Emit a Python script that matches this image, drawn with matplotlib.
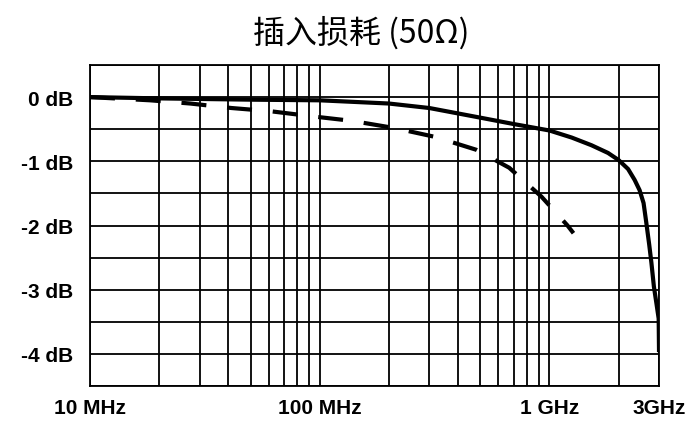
import matplotlib.pyplot as plt
from matplotlib.ticker import FixedLocator, NullFormatter

# frequency (MHz) / loss (dB)
solid_f = [10, 20, 50, 100, 200, 300, 500, 700, 1000, 1250, 1525, 1800, 2000, 2200, 2350, 2470, 2570, 2640, 2720,
           2780, 2850, 2920, 2990, 3000]
solid_db = [0, -0.02, -0.04, -0.05, -0.1, -0.17, -0.32, -0.42, -0.52, -0.63, -0.75, -0.87, -0.98, -1.12, -1.29,
            -1.45, -1.65, -1.95, -2.3, -2.58, -2.95, -3.2, -3.45, -3.94]

dash_f = [10, 18.3, 27.3, 41.3, 61, 93, 138, 210, 318, 480, 668, 923, 1199, 1273]
dash_db = [0, -0.05, -0.1, -0.17, -0.22, -0.3, -0.37, -0.48, -0.62, -0.82, -1.1, -1.55, -2.0, -2.12]

x_ticks = [10, 100, 1000, 3000]
x_labels = ['10 MHz', '100 MHz', '1 GHz', '3GHz']
y_ticks = [0, -1, -2, -3, -4]
y_labels = ['0 dB', '-1 dB', '-2 dB', '-3 dB', '-4 dB']

fig = plt.figure(figsize=(6.93, 4.27), dpi=100)
ax = fig.add_axes([90 / 693, 1 - 387 / 427, (659 - 90) / 693, (387 - 66) / 427])

ax.plot(solid_f, solid_db, color='black', lw=3, solid_joinstyle='round', zorder=3)
ax.plot(dash_f, dash_db, color='black', lw=3, dashes=(6, 5), zorder=3)

ax.set_xscale('log')
ax.set_xlim(10, 3000)
ax.set_ylim(-4.5, 0.5)

grid_x = [m * 10 ** k for k in (1, 2) for m in range(1, 10)] + [1000, 2000, 3000]
ax.xaxis.set_major_locator(FixedLocator(x_ticks))
ax.xaxis.set_minor_locator(FixedLocator(grid_x))
ax.xaxis.set_minor_formatter(NullFormatter())
ax.set_xticklabels(x_labels)
ax.set_yticks(y_ticks)
ax.set_yticklabels(y_labels)
ax.set_yticks([0.5, -0.5, -1.5, -2.5, -3.5, -4.5], minor=True)

ax.grid(True, which='both', color='black', lw=1.3)
for s in ax.spines.values():
    s.set_linewidth(1.3)
ax.tick_params(which='both', length=0)
ax.tick_params(axis='x', pad=9)
ax.tick_params(axis='y', pad=12)
for lab in ax.get_xticklabels() + ax.get_yticklabels():
    lab.set_family('Liberation Sans')
    lab.set_fontweight('bold')
    lab.set_fontsize(15)

fig.text(361 / 693, 1 - 33 / 427, '插入损耗 (50Ω)', ha='center', va='center',
         fontsize=23, fontweight='medium', family=['Noto Sans CJK SC', 'DejaVu Sans'])

fig.savefig('out.png', dpi=100)
